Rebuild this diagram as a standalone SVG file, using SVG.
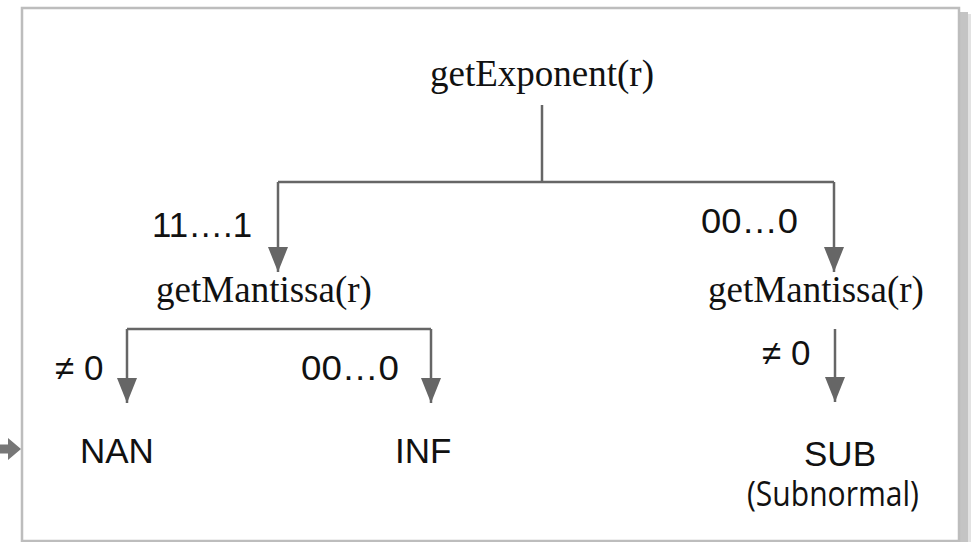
<svg xmlns="http://www.w3.org/2000/svg" width="974" height="542" viewBox="0 0 974 542">
  <style>
    .serif { font-family: "Liberation Serif", "Times New Roman", serif; font-size: 37px; fill: #111; }
    .sans { font-family: "Liberation Sans", Arial, sans-serif; font-size: 35px; fill: #111; }
    .big { font-family: "Liberation Sans", Arial, sans-serif; font-size: 35px; fill: #111; }
    .cal { font-family: "Open Sans", "Noto Sans", sans-serif; font-size: 34px; fill: #111; }
    .conn { stroke: #666; stroke-width: 2.5; fill: none; }
  </style>
  <defs>
    <marker id="ah" markerUnits="userSpaceOnUse" markerWidth="26" markerHeight="20" viewBox="0 0 26 20" refX="25" refY="10" orient="auto">
      <path d="M0,0 L25,10 L0,20 Z" fill="#666"/>
    </marker>
  </defs>
  <rect width="974" height="542" fill="#fff"/>
  <!-- frame shadow -->
  <rect x="960" y="12" width="8" height="530" fill="#c4c4c4"/>
  <rect x="968" y="14" width="3" height="528" fill="#e2e2e2"/>
  <!-- frame -->
  <rect x="22" y="8" width="937" height="533" fill="#fff" stroke="#bdbdbd" stroke-width="2.5"/>
  <!-- left external arrow -->
  <g id="side-arrow">
    <path d="M0,444.5 L8,444.5 L8,438 L21,449 L8,460 L8,453.5 L0,453.5 Z" fill="#777"/>
  </g>

  <g id="connectors">
    <path class="conn" d="M542,105 V182"/>
    <path class="conn" d="M278,182 H834"/>
    <path class="conn" d="M278,182 V272" marker-end="url(#ah)"/>
    <path class="conn" d="M834,182 V272" marker-end="url(#ah)"/>
    <path class="conn" d="M127,329 H431"/>
    <path class="conn" d="M127,329 V403" marker-end="url(#ah)"/>
    <path class="conn" d="M431,329 V403" marker-end="url(#ah)"/>
    <path class="conn" d="M835,329 V402" marker-end="url(#ah)"/>
  </g>

  <g id="labels">
    <text class="sans" x="152" y="237" textLength="100" lengthAdjust="spacingAndGlyphs">11….1</text>
    <text class="sans" x="701" y="233" textLength="97" lengthAdjust="spacingAndGlyphs">00…0</text>
    <text class="sans" x="55" y="380">≠ 0</text>
    <text class="sans" x="301" y="380" textLength="98" lengthAdjust="spacingAndGlyphs">00…0</text>
    <text class="sans" x="762" y="365">≠ 0</text>
  </g>

  <g id="getExponent">
    <text class="serif" x="542" y="86" text-anchor="middle">getExponent(r)</text>
  </g>
  <g id="getMantissa-left">
    <text class="serif" x="264" y="302" text-anchor="middle">getMantissa(r)</text>
  </g>
  <g id="getMantissa-right">
    <text class="serif" x="816" y="302" text-anchor="middle">getMantissa(r)</text>
  </g>
  <g id="nan">
    <text class="big" x="80" y="463">NAN</text>
  </g>
  <g id="inf">
    <text class="big" x="395" y="463">INF</text>
  </g>
  <g id="sub">
    <text class="big" x="840" y="466" text-anchor="middle">SUB</text>
    <text class="cal" x="747" y="506" textLength="172" lengthAdjust="spacingAndGlyphs">(Subnormal)</text>
  </g>
</svg>
